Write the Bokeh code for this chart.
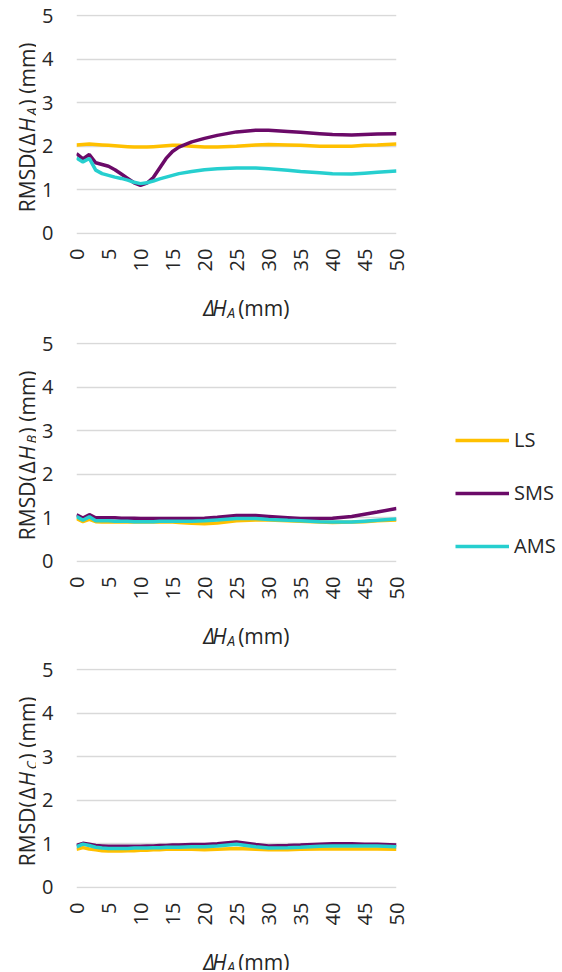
import math
from bokeh.plotting import figure
from bokeh.models import Range1d, FixedTicker, Label, Legend, LegendItem
from bokeh.layouts import column, row
from bokeh.embed import file_html
from bokeh.resources import INLINE

# ---------------- data ----------------
X = [0, 1, 2, 3, 4, 5, 6, 7, 8, 9, 10, 11, 12, 13, 14, 15, 16, 18, 20, 22, 25, 28, 30, 33, 35, 38, 40, 43, 45, 47, 50]

A_LS = [2.03, 2.04, 2.05, 2.04, 2.03, 2.02, 2.01, 2.00, 1.99, 1.98, 1.98, 1.98, 1.99, 2.00, 2.01, 2.02, 2.02, 2.00, 1.98, 1.98, 2.00, 2.03, 2.04, 2.03, 2.02, 2.00, 2.00, 2.00, 2.02, 2.03, 2.05]
A_SMS = [1.83, 1.71, 1.81, 1.62, 1.58, 1.54, 1.46, 1.36, 1.26, 1.16, 1.10, 1.15, 1.28, 1.50, 1.72, 1.88, 1.98, 2.10, 2.18, 2.25, 2.33, 2.37, 2.37, 2.34, 2.32, 2.29, 2.27, 2.26, 2.27, 2.28, 2.29]
A_AMS = [1.73, 1.64, 1.72, 1.45, 1.37, 1.33, 1.29, 1.26, 1.22, 1.17, 1.14, 1.16, 1.20, 1.25, 1.29, 1.33, 1.37, 1.42, 1.46, 1.48, 1.50, 1.50, 1.48, 1.45, 1.42, 1.39, 1.37, 1.36, 1.38, 1.40, 1.43]

B_LS = [0.98, 0.91, 0.96, 0.91, 0.90, 0.90, 0.90, 0.90, 0.90, 0.90, 0.90, 0.90, 0.90, 0.90, 0.90, 0.90, 0.89, 0.87, 0.86, 0.88, 0.93, 0.95, 0.95, 0.93, 0.92, 0.90, 0.89, 0.90, 0.91, 0.93, 0.95]
B_SMS = [1.07, 0.99, 1.07, 1.00, 1.00, 1.00, 1.00, 0.99, 0.99, 0.99, 0.98, 0.98, 0.98, 0.98, 0.98, 0.98, 0.98, 0.98, 0.99, 1.01, 1.05, 1.05, 1.03, 1.00, 0.98, 0.98, 0.99, 1.03, 1.08, 1.13, 1.21]
B_AMS = [1.03, 0.94, 1.02, 0.93, 0.93, 0.93, 0.92, 0.92, 0.92, 0.91, 0.91, 0.91, 0.91, 0.92, 0.92, 0.92, 0.92, 0.92, 0.93, 0.95, 0.98, 0.98, 0.96, 0.94, 0.93, 0.91, 0.90, 0.90, 0.92, 0.94, 0.97]

C_LS = [0.87, 0.91, 0.88, 0.86, 0.84, 0.83, 0.83, 0.83, 0.84, 0.84, 0.85, 0.85, 0.86, 0.86, 0.87, 0.87, 0.88, 0.87, 0.86, 0.87, 0.89, 0.87, 0.86, 0.86, 0.87, 0.88, 0.88, 0.88, 0.88, 0.88, 0.87]
C_SMS = [0.96, 1.01, 0.99, 0.96, 0.95, 0.94, 0.94, 0.94, 0.94, 0.94, 0.94, 0.95, 0.95, 0.96, 0.96, 0.97, 0.97, 0.98, 0.98, 1.00, 1.04, 0.98, 0.95, 0.96, 0.97, 0.99, 1.00, 1.00, 0.99, 0.99, 0.97]
C_AMS = [0.93, 0.99, 0.96, 0.92, 0.90, 0.89, 0.89, 0.89, 0.89, 0.90, 0.90, 0.90, 0.91, 0.91, 0.92, 0.92, 0.92, 0.93, 0.93, 0.95, 0.99, 0.93, 0.90, 0.91, 0.92, 0.94, 0.95, 0.95, 0.95, 0.95, 0.93]

SERIES = ["LS", "SMS", "AMS"]
X_TICKS = [0, 5, 10, 15, 20, 25, 30, 35, 40, 45, 50]
Y_TICKS = [0, 1, 2, 3, 4, 5]
SUBS = ["A", "B", "C"]

# ---------------- style ----------------
COLORS = {"LS": "#FFC000", "SMS": "#6B0A68", "AMS": "#26CFCF"}
FONT = "Open Sans"
TXT = "#262626"
GRID = "#D9D9D9"
LW = 3.5
BIG = "21px"
SMALL = "14px"
# offsets (px) of the title pieces along the text direction
Y_OFF = [0, 66.7, 80.0, 96.8, 106.8]   # "RMSD(", "Δ", "H", sub, ") (mm)"
X_OFF = [0, 11, 29, 42]                # "Δ", "H", "A", "(mm)"
SUB_DROP = 4.4

PANEL_W = 384
PANEL_H = 280
XT_H = [48, 46, 36]


def blank(width, height):
    f = figure(width=width, height=height, x_range=Range1d(0, width), y_range=Range1d(0, height),
               min_border=0, output_backend="svg", toolbar_location=None,
               x_axis_location=None, y_axis_location=None)
    f.outline_line_color = None
    f.xgrid.grid_line_color = None
    f.ygrid.grid_line_color = None
    return f


def piece(f, x, y, text, size, italic=False, angle=0.0):
    f.add_layout(Label(x=x, y=y, text=text, angle=angle, text_font=FONT, text_font_size=size,
                       text_font_style="italic" if italic else "normal",
                       text_color=TXT, text_align="left", text_baseline="alphabetic"))


def make_panel(data):
    p = figure(width=PANEL_W, height=PANEL_H, min_border_left=40, min_border_right=24,
               min_border_top=14, min_border_bottom=46,
               x_range=Range1d(0, 50), y_range=Range1d(-0.03, 5.03),
               output_backend="svg", toolbar_location=None)
    p.outline_line_color = None
    p.xgrid.grid_line_color = None
    p.ygrid.grid_line_color = GRID
    p.ygrid.grid_line_width = 1.5
    p.xaxis.ticker = FixedTicker(ticks=X_TICKS)
    p.yaxis.ticker = FixedTicker(ticks=Y_TICKS)
    p.ygrid.ticker = FixedTicker(ticks=Y_TICKS)
    for ax in (p.xaxis, p.yaxis):
        ax.axis_line_color = None
        ax.major_tick_line_color = None
        ax.minor_tick_line_color = None
        ax.major_tick_in = 0
        ax.major_tick_out = 0
        ax.major_label_text_font = FONT
        ax.major_label_text_font_size = "20px"
        ax.major_label_text_color = TXT
    p.yaxis.major_label_standoff = 23
    p.xaxis.major_label_standoff = 14
    p.xaxis.major_label_orientation = math.pi / 2
    for name in SERIES:
        p.line(X, data[name], line_color=COLORS[name], line_width=LW)
    return p


def make_xtitle(h):
    f = blank(PANEL_W, h)
    x0 = 152
    by = h - 27.3
    piece(f, x0 + X_OFF[0], by, "\u0394", BIG, italic=True)
    piece(f, x0 + X_OFF[1], by, "H", BIG, italic=True)
    piece(f, x0 + X_OFF[2], by - SUB_DROP, "A", SMALL, italic=True)
    piece(f, x0 + X_OFF[3], by, "(mm)", BIG)
    return f


def make_ytitle(h, sub):
    f = blank(36, h)
    y0 = h - 211.7
    a = math.pi / 2
    bx = 26.7
    piece(f, bx, y0 + Y_OFF[0], "RMSD(", BIG, angle=a)
    piece(f, bx, y0 + Y_OFF[1], "\u0394", BIG, angle=a)
    piece(f, bx, y0 + Y_OFF[2], "H", BIG, italic=True, angle=a)
    piece(f, bx + SUB_DROP, y0 + Y_OFF[3], sub, SMALL, italic=True, angle=a)
    piece(f, bx, y0 + Y_OFF[4], ") (mm)", BIG, angle=a)
    return f


datasets = [
    {"LS": A_LS, "SMS": A_SMS, "AMS": A_AMS},
    {"LS": B_LS, "SMS": B_SMS, "AMS": B_AMS},
    {"LS": C_LS, "SMS": C_SMS, "AMS": C_AMS},
]

panel_col = []
title_col = []
for i, d in enumerate(datasets):
    panel_col.append(make_panel(d))
    panel_col.append(make_xtitle(XT_H[i]))
    title_col.append(make_ytitle(PANEL_H + XT_H[i], SUBS[i]))

TOTAL_H = sum(PANEL_H + h for h in XT_H)

# legend figure: carries the series (outside its visible range) so the legend draws real glyphs
leg = figure(width=136, height=TOTAL_H, x_range=Range1d(-2, -1), y_range=Range1d(0, 1),
             min_border=0, output_backend="svg", toolbar_location=None,
             x_axis_location=None, y_axis_location=None)
leg.outline_line_color = None
leg.xgrid.grid_line_color = None
leg.ygrid.grid_line_color = None
items = []
for name in SERIES:
    r = leg.line(X, datasets[1][name], line_color=COLORS[name], line_width=LW)
    items.append(LegendItem(label=name, renderers=[r]))
legend = Legend(items=items, location=(35, TOTAL_H - 559), glyph_width=54, glyph_height=20,
                label_standoff=5, spacing=26, padding=0, margin=0,
                border_line_color=None, background_fill_alpha=0,
                label_text_font=FONT, label_text_font_size="20px", label_text_color=TXT)
leg.add_layout(legend)

layout = row(column(*title_col), column(*panel_col), leg)

open("out.html", "w").write(file_html(layout, INLINE))
